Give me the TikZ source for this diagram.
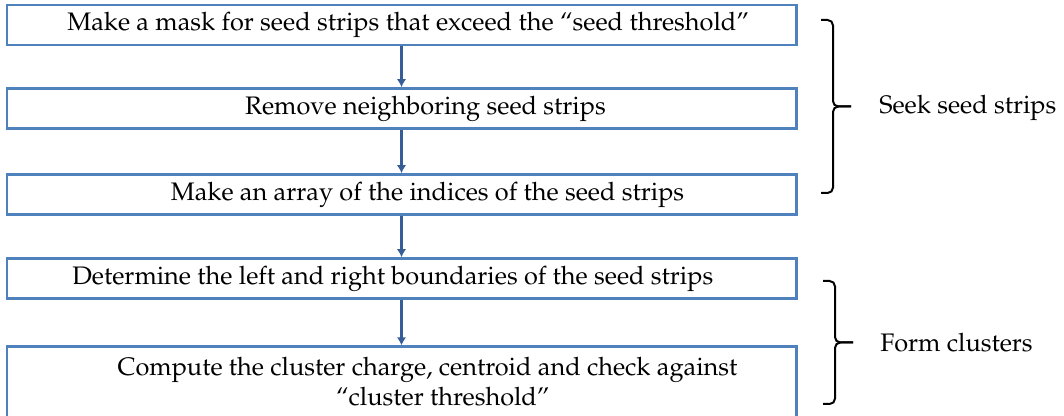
\documentclass[tikz,border=0pt]{standalone}
\usepackage[T1]{fontenc}
\usepackage{mathpazo}
\usetikzlibrary{arrows.meta,calc}
\definecolor{boxblue}{RGB}{79,129,189}
\definecolor{arrowblue}{RGB}{55,93,150}
\tikzset{
	stepbox/.style={draw=boxblue, line width=2pt, minimum width=592pt, minimum height=30pt, inner sep=0pt, align=center, font=\fontsize{19}{22.5}\selectfont},
	flow/.style={draw=arrowblue, line width=1.8pt, -{Latex[length=6pt,width=7pt]}},
	grpline/.style={line width=1.5pt, rounded corners=4pt},
	grplabel/.style={anchor=west, inner sep=0pt, font=\fontsize{19}{22.5}\selectfont}
}
\def\grpbrace(#1)(#2){\draw[grpline] (#1) -- ++(12,0) |- ($(#1)!0.5!(#2)+(30,0)$); \draw[grpline] (#2) -- ++(12,0) |- ($(#1)!0.5!(#2)+(30,0)$);}
\begin{document}
\begin{tikzpicture}[x=0.75pt, y=-0.75pt]
		%%%%% START %%%%%
		\useasboundingbox (0, 0) rectangle (1064, 416);
		
		\node[stepbox] (mask) at (401.5, 25) {\hspace*{10pt}Make a mask for seed strips that exceed the ``seed threshold''};
		\node[stepbox] (remove) at (401.5, 108.5) {\hspace*{36pt}Remove neighboring seed strips};
		\node[stepbox] (index) at (401.5, 194.5) {\hspace*{39pt}Make an array of the indices of the seed strips};
		\node[stepbox] (bound) at (401.5, 278.5) {Determine the left and right boundaries of the seed strips\hspace*{13pt}};
		\node[stepbox, minimum height=53pt] (charge) at (401.5, 382) {\hspace*{39pt}Compute the cluster charge, centroid and check against\\ \hspace*{62pt}``cluster threshold''};
		
		\draw[flow] (mask) -- (remove);
		\draw[flow] (remove) -- (index);
		\draw[flow] (index) -- (bound);
		\draw[flow] (bound) -- (charge);
		
		\coordinate (seektop) at (821, 20);
		\coordinate (seekbot) at (821, 193);
		\grpbrace(seektop)(seekbot)
		\node[grplabel] (seek) at (879, 108) {Seek seed strips};
		
		\coordinate (formtop) at (823, 281);
		\coordinate (formbot) at (823, 404);
		\grpbrace(formtop)(formbot)
		\node[grplabel] (form) at (880, 343) {Form clusters};
		
		%%%%% END %%%%%
\end{tikzpicture}
\end{document}
